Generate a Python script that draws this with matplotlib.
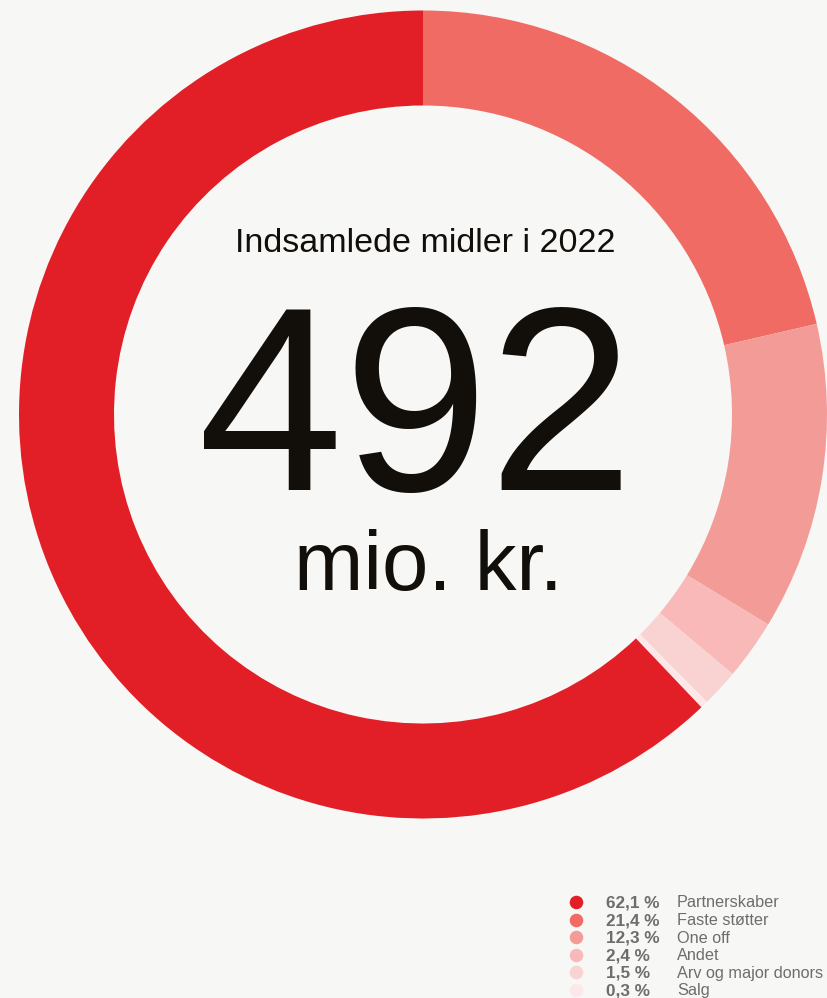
import matplotlib
matplotlib.use("Agg")
import matplotlib.pyplot as plt

# legend order (as in the reference)
labels = ["Partnerskaber", "Faste støtter", "One off", "Andet", "Arv og major donors", "Salg"]
shares = [62.1, 21.4, 12.3, 2.4, 1.5, 0.3]
share_txt = ["62,1 %", "21,4 %", "12,3 %", "2,4 %", "1,5 %", "0,3 %"]
colors = ["#e21f26", "#f06b64", "#f39c97", "#f8b9b8", "#f9d3d1", "#fce8e8"]

title = "Indsamlede midler i 2022"
total = "492"
unit = "mio. kr."

bg = "#f7f7f5"
ink = "#120e0a"
grey = "#6d6d6d"

plt.rcParams["font.family"] = ["Liberation Sans", "DejaVu Sans"]

fig = plt.figure(figsize=(8.28, 9.98), dpi=100, facecolor=bg)
ax = fig.add_axes([0, 0, 1, 1])
ax.set_facecolor(bg)

# ring goes clockwise from the top, starting with "Faste støtter"
order = [1, 2, 3, 4, 5, 0]
ax.pie([shares[i] for i in order], colors=[colors[i] for i in order],
       startangle=-90, counterclock=True, center=(423, 414.5), radius=404,
       wedgeprops=dict(width=95, linewidth=0))

ax.set_xlim(0, 828)
ax.set_ylim(998, 0)
ax.axis("off")

# centre text
ax.text(425, 252, title, ha="center", va="baseline", fontsize=24.5, color=ink)
ax.text(416, 490, total, ha="center", va="baseline", fontsize=188, color=ink)
ax.text(428, 590, unit, ha="center", va="baseline", fontsize=60, color=ink)

# legend
y0, dy = 902, 17.6
for k in range(len(labels)):
    y = y0 + k * dy
    ax.scatter([576], [y], s=95, color=colors[k], linewidths=0, clip_on=False)
    ax.text(606, y + 5.5, share_txt[k], ha="left", va="baseline",
            fontsize=12.3, fontweight="bold", color=grey)
    ax.text(677, y + 5.5, labels[k], ha="left", va="baseline",
            fontsize=11.7, color=grey)

fig.savefig("out.png", dpi=100, facecolor=bg)
